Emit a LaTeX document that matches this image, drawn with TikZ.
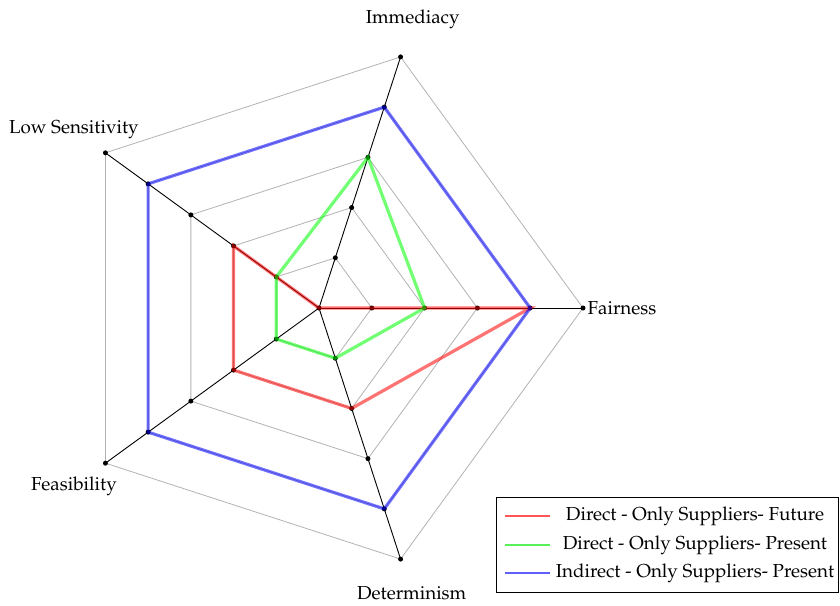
\documentclass[tikz,border=0pt]{standalone}
\usepackage[T1]{fontenc}
\usepackage{mathpazo}
\usetikzlibrary{calc}
\definecolor{keyred}{RGB}{255,85,85}
\definecolor{keygreen}{RGB}{90,240,90}
\definecolor{keyblue}{RGB}{95,95,250}
\begin{document}
\begin{tikzpicture}[x=1pt,y=1pt,
  gridline/.style={gray!60, line width=0.8pt},
  axisline/.style={black, line width=0.9pt},
  tickdot/.style={fill=black, circle, inner sep=0pt, minimum size=5pt},
  series/.style={line width=3.2pt, opacity=0.55},
  keyline/.style={line width=1.1pt},
  txt/.style={font=\fontsize{18.8}{22}\selectfont, inner sep=0pt},
  ]
\useasboundingbox (0,0) rectangle (840,-605);
\coordinate (C) at (319,-308);

% level points on the five axes
\foreach \n/\a in {fa/0,im/72,ls/144,fe/216,de/288}{
  \foreach \k in {1,...,5}{
    \coordinate (\n\k) at ($(C)+(\a:{\k*52.8})$);
  }
}

% grid pentagons
\foreach \k in {1,...,5}
  \draw[gridline] (fa\k) -- (im\k) -- (ls\k) -- (fe\k) -- (de\k) -- cycle;

% axes
\foreach \n in {fa,im,ls,fe,de}
  \draw[axisline] (C) -- (\n5);

% level markers
\node[tickdot] (dotC) at (C) {};
\foreach \n in {fa,im,ls,fe,de}
  \foreach \k in {1,...,5}
    \node[tickdot] (dot\n\k) at (\n\k) {};

% data series
\draw[series, red]   (fa4) -- (C)   -- (ls2) -- (fe2) -- (de2) -- cycle;
\draw[series, green] (fa2) -- (im3) -- (ls1) -- (fe1) -- (de1) -- cycle;
\draw[series, blue]  (fa4) -- (im4) -- (ls4) -- (fe4) -- (de4) -- cycle;

% axis labels
\node[txt] (lfa) at ($(C)+(0:303)$)   {Fairness};
\node[txt] (lim) at ($(C)+(72:303)$)  {Immediacy};
\node[txt] (lls) at ($(C)+(144:303)$) {Low Sensitivity};
\node[txt] (lfe) at ($(C)+(216:303)$) {Feasibility};
\node[txt] (lde) at ($(C)+(288:300)$) {Determinism};

% legend
\node[draw, line width=0.8pt, minimum width=342pt, minimum height=95pt, inner sep=0pt] (legend) at (667,-544.5) {};
\node[txt] (t1) at (695,-516) {Direct - Only Suppliers- Future};
\node[txt] (t2) at (695,-545) {Direct - Only Suppliers- Present};
\node[txt] (t3) at (695,-573) {Indirect - Only Suppliers- Present};
\coordinate (ka1) at (505,-516);
\coordinate (kb1) at (550,-516);
\coordinate (ka2) at (505,-545);
\coordinate (kb2) at (550,-545);
\coordinate (ka3) at (505,-573);
\coordinate (kb3) at (550,-573);
\draw[keyline, draw=keyred]   (ka1) -- (kb1);
\draw[keyline, draw=keygreen] (ka2) -- (kb2);
\draw[keyline, draw=keyblue]  (ka3) -- (kb3);
\end{tikzpicture}
\end{document}
